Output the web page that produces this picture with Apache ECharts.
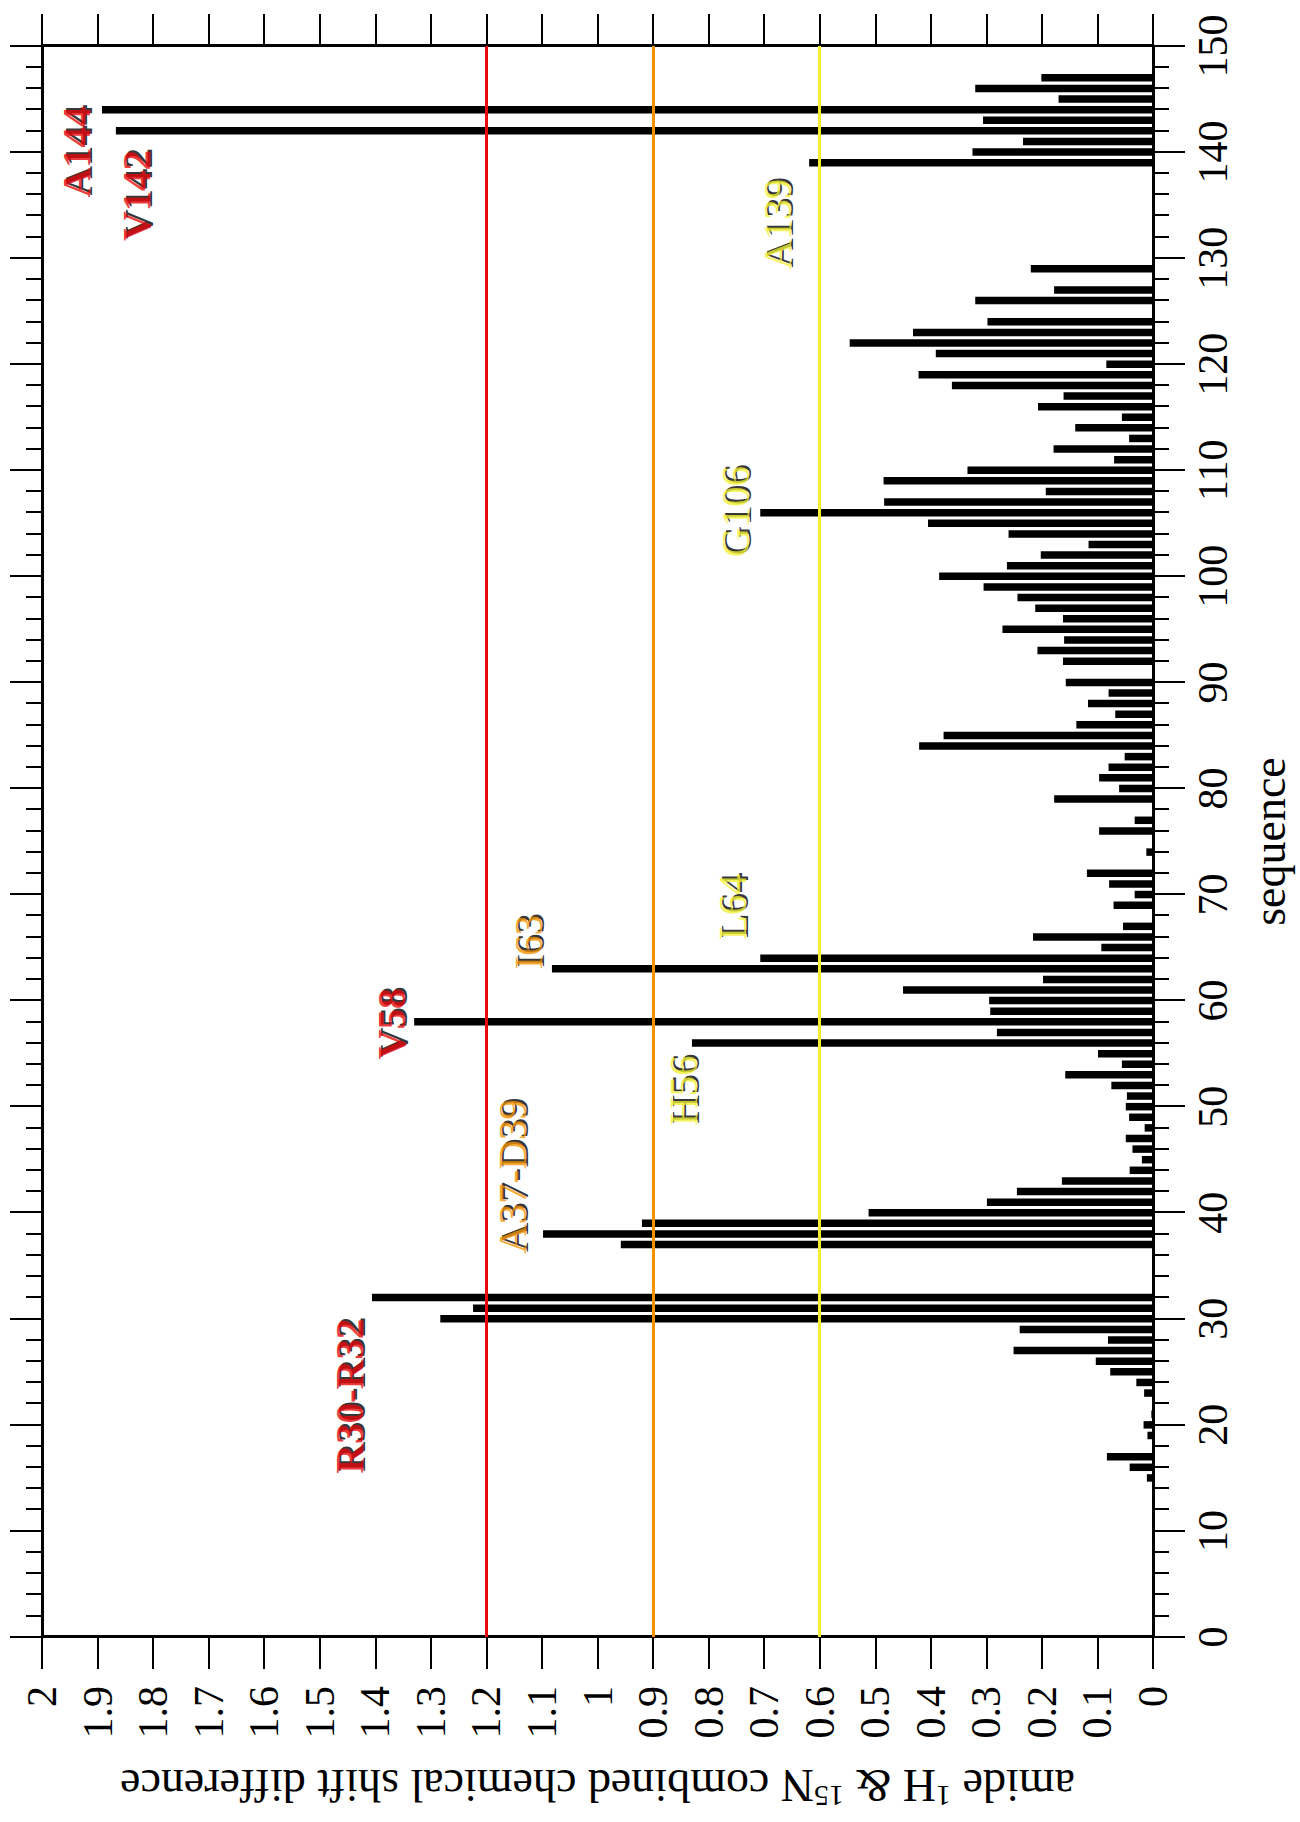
<!DOCTYPE html>
<html>
<head>
<meta charset="utf-8">
<script src="https://cdn.jsdelivr.net/npm/echarts/dist/echarts.min.js"></script>
<style>
html,body{margin:0;padding:0;width:1300px;height:1822px;overflow:hidden;background:#fff;}
#wrap{position:absolute;left:0;top:0;width:1822px;height:1300px;transform-origin:0 0;transform:translate(0,1822px) rotate(-90deg);}
</style>
</head>
<body>
<div id="wrap"></div>
<script>
// ---- data ----
const residues = [15,16,17,19,20,21,23,24,25,26,27,28,29,30,31,32,37,38,39,40,41,42,43,44,45,46,47,48,49,50,
  51,52,53,54,55,56,57,58,59,60,61,62,63,64,65,66,67,69,70,71,72,74,76,77,79,80,81,82,83,84,85,86,87,88,89,90,
  92,93,94,95,96,97,98,99,100,101,102,103,104,105,106,107,108,109,110,111,112,113,114,115,116,117,118,119,120,
  121,122,123,124,126,127,129,139,140,141,142,143,144,145,146,147];
const shiftDiff = [0.011,0.042,0.083,0.010,0.017,0.003,0.016,0.030,0.077,0.103,0.251,0.081,0.240,1.283,1.224,1.406,
  0.958,1.098,0.920,0.512,0.299,0.245,0.164,0.042,0.020,0.037,0.049,0.015,0.043,0.049,
  0.047,0.075,0.158,0.056,0.099,0.830,0.281,1.330,0.293,0.295,0.450,0.198,1.082,0.707,0.093,0.216,0.054,
  0.071,0.033,0.079,0.119,0.012,0.097,0.033,0.178,0.061,0.097,0.080,0.051,0.421,0.377,0.138,0.068,0.117,0.080,0.157,
  0.162,0.208,0.160,0.271,0.162,0.212,0.244,0.305,0.385,0.263,0.202,0.116,0.260,0.405,0.707,0.484,0.193,0.485,0.334,
  0.070,0.179,0.043,0.140,0.056,0.207,0.161,0.362,0.422,0.084,
  0.391,0.546,0.432,0.298,0.320,0.178,0.220,0.619,0.325,0.234,1.867,0.306,1.892,0.170,0.320,0.201];
const thresholds = [1.2, 0.9, 0.6];
const labelTexts = ['A144','V142','A139','G106','L64','H56','I63','A37-D39','V58','R30-R32'];
const labelSeq   = [140.0, 135.9, 133.2, 106.1, 68.8, 51.5, 65.5, 43.4, 57.8, 22.7];
const labelVal   = [1.938, 1.831, 0.676, 0.753, 0.758, 0.846, 1.125, 1.154, 1.372, 1.447];
const labelLevel = [1.2, 1.2, 0.6, 0.6, 0.6, 0.6, 0.9, 0.9, 1.2, 1.2];
const seqName = 'sequence';
const valName = 'amide {s|1}H & {s|15}N combined chemical shift difference';

// ---- styling ----
const FONT = 'Liberation Serif';
const levelColor = {1.2: '#e8060b', 0.9: '#f39200', 0.6: '#f0f030'};
const axisLine = {show: true, onZero: false, lineStyle: {color: '#000', width: 3}};
const tick = {show: true, inside: false, length: 32, lineStyle: {color: '#000', width: 2}};
const minorTick = {show: true, splitNumber: 5, length: 16, lineStyle: {color: '#000', width: 2}};

const chart = echarts.init(document.getElementById('wrap'), null, {renderer: 'svg', width: 1822, height: 1300});

const barData = residues.map((s, i) => [s, shiftDiff[i]]);
const labelBase = labelTexts.map((t, i) => ({name: t, value: [labelSeq[i], labelVal[i]], lvl: labelLevel[i]}));

chart.setOption({
  animation: false,
  backgroundColor: '#fff',
  grid: {left: 185, right: 46, top: 42, bottom: 147, containLabel: false, outerBoundsMode: 'none'},
  xAxis: [
    {type: 'value', min: 0, max: 150, interval: 10, position: 'bottom',
     axisLine: axisLine, axisTick: tick, minorTick: minorTick,
     splitLine: {show: false}, minorSplitLine: {show: false},
     axisLabel: {show: true, margin: 39, fontSize: 42, color: '#000', fontFamily: FONT},
     name: seqName, nameLocation: 'middle', nameGap: 93,
     nameTextStyle: {fontSize: 46, color: '#000', fontFamily: FONT}},
    {type: 'value', min: 0, max: 150, interval: 10, position: 'top',
     axisLine: axisLine, axisTick: tick, minorTick: minorTick,
     splitLine: {show: false}, minorSplitLine: {show: false}, axisLabel: {show: false}}
  ],
  yAxis: [
    {type: 'value', min: 0, max: 2, interval: 0.1, position: 'left',
     axisLine: axisLine, axisTick: tick, splitLine: {show: false},
     axisLabel: {show: true, margin: 49, fontSize: 42, color: '#000', fontFamily: FONT},
     name: valName, nameLocation: 'middle', nameRotate: 90, nameGap: 122,
     nameTextStyle: {fontSize: 46, color: '#000', fontFamily: FONT, lineHeight: 52,
       rich: {s: {fontSize: 30, fontFamily: FONT, color: '#000', verticalAlign: 'top', lineHeight: 30}}}},
    {type: 'value', min: 0, max: 2, interval: 0.1, position: 'right',
     axisLine: axisLine, axisTick: tick, splitLine: {show: false}, axisLabel: {show: false}}
  ],
  series: [
    {type: 'bar', xAxisIndex: 0, yAxisIndex: 0, data: barData, barWidth: 7.5,
     itemStyle: {color: '#000'}, silent: true,
     markLine: {silent: true, symbol: 'none', label: {show: false}, z: 5,
       data: thresholds.map(t => ({yAxis: t, lineStyle: {color: levelColor[t], width: 3, type: 'solid'}}))}},
    {type: 'scatter', z: 10, symbolSize: 1, itemStyle: {color: 'rgba(0,0,0,0)'}, silent: true,
     data: labelBase.map(d => ({name: d.name, value: d.value,
       label: {show: true, position: 'inside', offset: [2, 2], formatter: '{b}', color: '#000',
         fontSize: 41, fontFamily: FONT, fontWeight: d.lvl === 1.2 ? 'bold' : 'normal'}}))},
    {type: 'scatter', z: 11, symbolSize: 1, itemStyle: {color: 'rgba(0,0,0,0)'}, silent: true,
     data: labelBase.map(d => ({name: d.name, value: d.value,
       label: {show: true, position: 'inside', formatter: '{b}', color: levelColor[d.lvl],
         fontSize: 41, fontFamily: FONT, fontWeight: d.lvl === 1.2 ? 'bold' : 'normal'}}))}
  ]
});
</script>
</body>
</html>
